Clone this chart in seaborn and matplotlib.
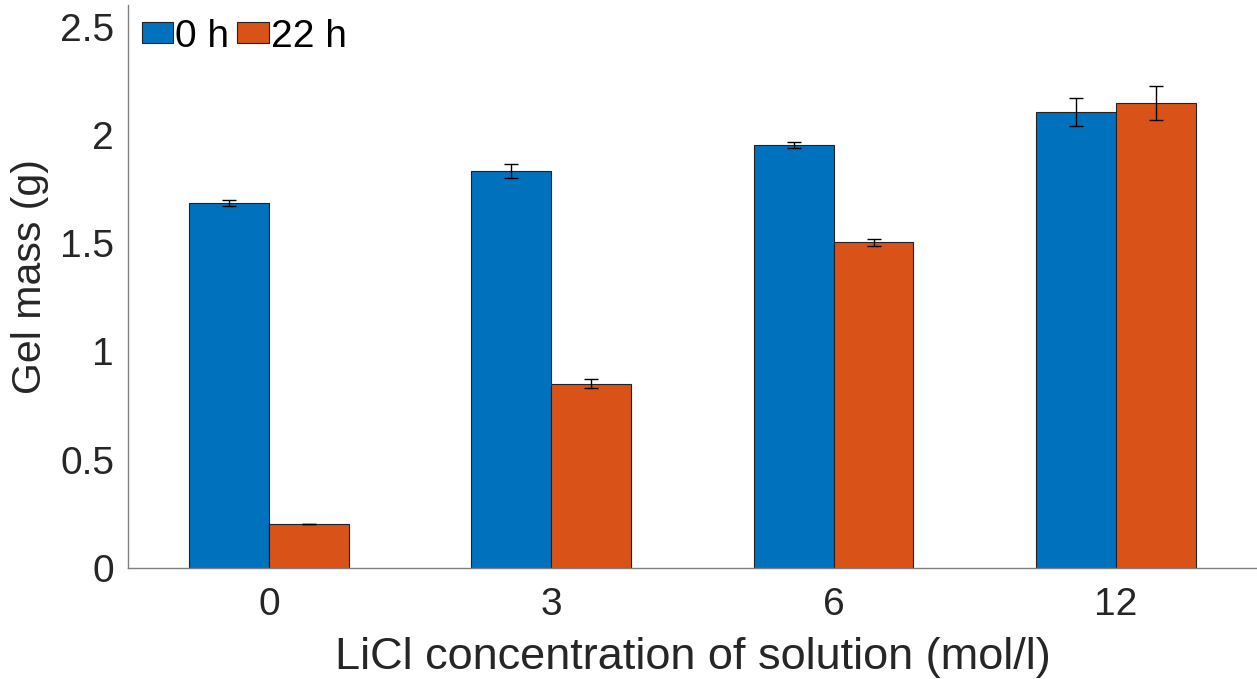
import pandas as pd
import matplotlib
matplotlib.use("Agg")
import matplotlib.pyplot as plt
import seaborn as sns

# values
concentrations = ["0", "3", "6", "12"]
mass_0h = [1.686, 1.834, 1.954, 2.105]
mass_22h = [0.203, 0.850, 1.504, 2.149]
err_0h = [0.015, 0.033, 0.015, 0.066]
err_22h = [0.002, 0.021, 0.015, 0.078]
time_labels = ["0 h", "22 h"]

df = pd.DataFrame({
    "conc": concentrations * 2,
    "mass": mass_0h + mass_22h,
    "time": [time_labels[0]] * 4 + [time_labels[1]] * 4,
})

sns.set_style("white")
plt.rcParams['font.family'] = ['Liberation Sans', 'DejaVu Sans']

fig = plt.figure(figsize=(12.57, 6.79), dpi=100)
ax = fig.add_axes([0.1018, 0.1635, 0.8982, 0.8291])

sns.barplot(data=df, x="conc", y="mass", hue="time", order=concentrations,
            hue_order=time_labels, palette=["#0072BD", "#D95319"],
            width=0.566, gap=0, errorbar=None, saturation=1,
            edgecolor="#222222", linewidth=0.8, ax=ax)

# error bars at the bar centres
for container, errs in zip(ax.containers, [err_0h, err_22h]):
    xs = [b.get_x() + b.get_width() / 2 for b in container]
    ys = [b.get_height() for b in container]
    ax.errorbar(xs, ys, yerr=errs, fmt="none", ecolor="black",
                elinewidth=1.0, capsize=5, capthick=1.0)

ax.set_xlim(-0.5, 3.5)
ax.set_ylim(0, 2.6)
ax.set_yticks([0, 0.5, 1, 1.5, 2, 2.5])
ax.set_yticklabels(["0", "0.5", "1", "1.5", "2", "2.5"])

for side in ["top", "right"]:
    ax.spines[side].set_visible(False)
for side in ["left", "bottom"]:
    ax.spines[side].set_color("#808080")
    ax.spines[side].set_linewidth(1.0)

ax.tick_params(axis="both", direction="in", length=7, width=1.0,
               color="#808080", labelsize=28, labelcolor="#262626", pad=10)
ax.tick_params(axis="x", pad=14)

ax.set_xlabel("LiCl concentration of solution (mol/l)", fontsize=32.5,
              color="#262626", labelpad=10)
ax.set_ylabel("Gel mass (g)", fontsize=29.5, color="#262626", labelpad=8)
ax.yaxis.label.set_y(0.517)

ax.legend(loc="upper left", bbox_to_anchor=(0.0, 1.0), ncol=2, frameon=False,
          fontsize=28, handlelength=0.82, handleheight=0.44,
          handletextpad=0.05, columnspacing=0.2, borderaxespad=0.15,
          borderpad=0.2)
for t in ax.get_legend().get_texts():
    t.set_color("black")

fig.savefig("out.png", dpi=100)
